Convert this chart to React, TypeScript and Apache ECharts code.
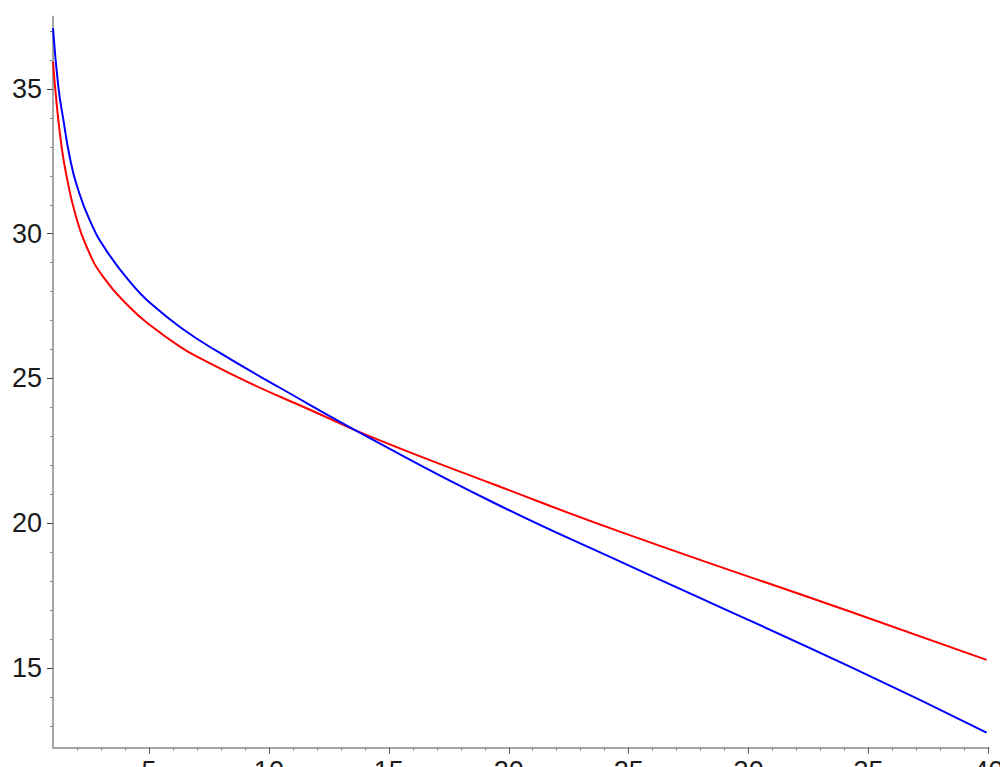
import React, { useEffect, useRef } from "react";
import * as echarts from "echarts";

// Points (x, y) for each curve
const blueX = [1.0, 1.22, 1.43, 1.71, 2.0, 2.54, 3.24, 4.35, 5.04, 6.29, 7.82, 10.46, 14.21, 19.42, 24.63, 34.22, 39.92];
const blueY = [37.1, 35.1, 33.95, 32.6, 31.65, 30.45, 29.4, 28.2, 27.62, 26.78, 25.95, 24.68, 22.94, 20.69, 18.68, 15.05, 12.77];
const redX = [1.0, 1.15, 1.36, 1.57, 1.92, 2.4, 3.1, 4.21, 5.04, 6.29, 7.13, 9.21, 11.71, 14.21, 19.42, 24.63, 34.22, 39.92];
const redY = [35.95, 34.51, 33.0, 31.97, 30.71, 29.55, 28.5, 27.45, 26.85, 26.1, 25.7, 24.84, 23.92, 23.0, 21.33, 19.71, 16.95, 15.28];

const xLabelValues = [5, 10, 15, 20, 25, 30, 35, 40];
const xMinorTicks = [2, 3, 4, 5, 6, 7, 8, 9, 10, 11, 12, 13, 14, 15, 16, 17, 18, 19, 20, 21, 22, 23, 24, 25, 26, 27, 28, 29, 30, 31, 32, 33, 34, 35, 36, 37, 38, 39, 40];
const yLabelValues = [15, 20, 25, 30, 35];
const yMinorTicks = [13, 14, 15, 16, 17, 18, 19, 20, 21, 22, 23, 24, 25, 26, 27, 28, 29, 30, 31, 32, 33, 34, 35, 36, 37];

const X_MIN = 1;
const X_MAX = 40;
const Y_MIN = 12.25;
const Y_MAX = 37.5;

export default function App() {
  const ref = useRef<HTMLDivElement>(null);

  useEffect(() => {
    if (!ref.current) return;
    const chart = echarts.init(ref.current, null, { renderer: "svg" });
    const font = "Liberation Sans, Arial, sans-serif";
    const axisLineStyle = { color: "#a6a6a6", width: 2 };
    chart.setOption({
      animation: false,
      backgroundColor: "#ffffff",
      grid: { left: 53, right: 11.5, top: 16.6, bottom: 19.4, containLabel: false, outerBoundsMode: "none" },
      xAxis: [
        {
          type: "value",
          min: X_MIN,
          max: X_MAX,
          axisLine: { show: true, onZero: false, lineStyle: axisLineStyle },
          axisTick: { show: true, customValues: xMinorTicks, length: 3, lineStyle: { color: "#888888", width: 1 } },
          axisLabel: {
            show: true,
            customValues: xLabelValues,
            margin: 10,
            fontSize: 27,
            fontFamily: font,
            color: "#1a1a1a",
          },
          splitLine: { show: false },
        },
        {
          type: "value",
          position: "bottom",
          min: X_MIN,
          max: X_MAX,
          axisLine: { show: false, onZero: false },
          axisTick: { show: true, customValues: xLabelValues, length: 6, lineStyle: { color: "#555555", width: 1 } },
          axisLabel: { show: false },
          splitLine: { show: false },
        },
      ],
      yAxis: [
        {
          type: "value",
          min: Y_MIN,
          max: Y_MAX,
          axisLine: { show: true, onZero: false, lineStyle: axisLineStyle },
          axisTick: { show: true, customValues: yMinorTicks, length: 3, lineStyle: { color: "#888888", width: 1 } },
          axisLabel: {
            show: true,
            customValues: yLabelValues,
            margin: 11,
            fontSize: 27,
            fontFamily: font,
            color: "#1a1a1a",
          },
          splitLine: { show: false },
        },
        {
          type: "value",
          position: "left",
          offset: 0,
          min: Y_MIN,
          max: Y_MAX,
          axisLine: { show: false, onZero: false },
          axisTick: { show: true, customValues: yLabelValues, length: 6, lineStyle: { color: "#444444", width: 1 } },
          axisLabel: { show: false },
          splitLine: { show: false },
        },
      ],
      series: [
        {
          type: "line",
          xAxisIndex: 0,
          yAxisIndex: 0,
          data: redX.map((x, i) => [x, redY[i]]),
          smooth: 0.5,
          showSymbol: false,
          lineStyle: { color: "#ff0000", width: 2 },
          itemStyle: { color: "#ff0000" },
        },
        {
          type: "line",
          xAxisIndex: 0,
          yAxisIndex: 0,
          data: blueX.map((x, i) => [x, blueY[i]]),
          smooth: 0.5,
          showSymbol: false,
          lineStyle: { color: "#0000ff", width: 2 },
          itemStyle: { color: "#0000ff" },
        },
      ],
    });
    return () => chart.dispose();
  }, []);

  return (
    <div
      ref={ref}
      style={{ position: "fixed", left: 0, top: 0, width: 1000, height: 767, overflow: "hidden", background: "#fff" }}
    />
  );
}
